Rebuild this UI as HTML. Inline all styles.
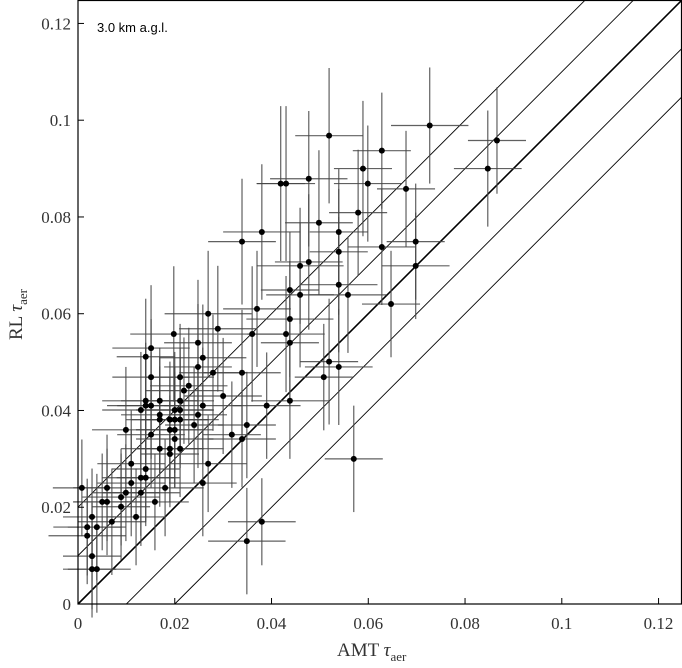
<!DOCTYPE html>
<html><head><meta charset="utf-8"><style>
body{margin:0;background:#fff;}
svg{display:block;}
</style></head><body>
<svg id="chart" width="682" height="668" xmlns="http://www.w3.org/2000/svg">
<g id="lines"></g>
<g id="errs"></g>
<g id="pts"></g>
<rect x="78" y="0.5" width="603.5" height="603.5" fill="none" stroke="#000" stroke-width="1.2"/>
<g id="axes" font-family="Liberation Serif, serif" font-size="17" fill="#333"></g>
<text x="97" y="32" font-family="Liberation Sans, sans-serif" font-size="13" fill="#000">3.0 km a.g.l.</text>
<text x="337" y="656" font-family="Liberation Serif, serif" font-size="19" fill="#333">AMT <tspan font-style="italic">τ</tspan><tspan font-size="13" dy="5">aer</tspan></text>
<text transform="translate(22,340) rotate(-90)" font-family="Liberation Serif, serif" font-size="19" fill="#333">RL <tspan font-style="italic">τ</tspan><tspan font-size="13" dy="5">aer</tspan></text>
</svg>
<script>
const xVals=[0.0519,0.0727,0.0628,0.0866,0.0589,0.0847,0.0419,0.0430,0.0477,0.0599,0.0678,0.0579,0.0498,0.0380,0.0539,0.0339,0.0628,0.0698,0.0539,0.0459,0.0477,0.0698,0.0539,0.0438,0.0459,0.0558,0.0647,0.0269,0.0370,0.0289,0.0438,0.0360,0.0430,0.0438,0.0258,0.0279,0.0339,0.0519,0.0539,0.0508,0.0300,0.0258,0.0390,0.0438,0.0198,0.0248,0.0151,0.0140,0.0248,0.0151,0.0211,0.0229,0.0219,0.0140,0.0151,0.0140,0.0169,0.0211,0.0200,0.0211,0.0130,0.0248,0.0169,0.0169,0.0190,0.0200,0.0211,0.0190,0.0200,0.0099,0.0240,0.0151,0.0200,0.0318,0.0339,0.0349,0.0169,0.0190,0.0211,0.0190,0.0110,0.0269,0.0258,0.0140,0.0130,0.0140,0.0110,0.0180,0.0008,0.0060,0.0099,0.0130,0.0050,0.0060,0.0089,0.0089,0.0159,0.0070,0.0120,0.0029,0.0019,0.0039,0.0019,0.0029,0.0029,0.0039,0.0380,0.0349,0.0570];
const yVals=[0.0968,0.0989,0.0937,0.0958,0.0900,0.0900,0.0869,0.0869,0.0879,0.0869,0.0858,0.0809,0.0788,0.0769,0.0769,0.0749,0.0738,0.0749,0.0728,0.0699,0.0707,0.0699,0.0660,0.0649,0.0639,0.0639,0.0620,0.0600,0.0610,0.0569,0.0589,0.0558,0.0558,0.0540,0.0509,0.0478,0.0478,0.0501,0.0490,0.0469,0.0430,0.0410,0.0410,0.0420,0.0558,0.0540,0.0529,0.0511,0.0490,0.0469,0.0469,0.0451,0.0441,0.0420,0.0410,0.0410,0.0420,0.0420,0.0401,0.0401,0.0401,0.0391,0.0391,0.0381,0.0381,0.0381,0.0381,0.0360,0.0360,0.0360,0.0370,0.0350,0.0341,0.0350,0.0341,0.0370,0.0321,0.0321,0.0321,0.0310,0.0290,0.0290,0.0250,0.0279,0.0261,0.0261,0.0250,0.0240,0.0240,0.0240,0.0230,0.0230,0.0211,0.0211,0.0221,0.0201,0.0211,0.0170,0.0180,0.0180,0.0159,0.0159,0.0141,0.0099,0.0072,0.0072,0.0170,0.0130,0.0300];
const xErr=[0.007,0.008,0.006,0.006,0.006,0.007,0.005,0.006,0.008,0.007,0.006,0.006,0.007,0.008,0.006,0.007,0.007,0.006,0.006,0.009,0.007,0.007,0.008,0.006,0.007,0.008,0.006,0.009,0.007,0.008,0.009,0.007,0.008,0.006,0.009,0.007,0.008,0.006,0.007,0.006,0.008,0.008,0.007,0.008,0.009,0.007,0.008,0.006,0.007,0.008,0.007,0.008,0.008,0.009,0.007,0.008,0.008,0.007,0.008,0.007,0.008,0.006,0.008,0.007,0.008,0.007,0.008,0.007,0.008,0.007,0.006,0.007,0.008,0.006,0.007,0.006,0.008,0.007,0.009,0.006,0.007,0.008,0.007,0.007,0.008,0.006,0.007,0.008,0.006,0.007,0.007,0.008,0.006,0.007,0.008,0.006,0.007,0.007,0.006,0.006,0.007,0.006,0.008,0.006,0.005,0.007,0.007,0.008,0.006];
const yErr=[0.014,0.012,0.012,0.011,0.014,0.012,0.016,0.016,0.014,0.012,0.012,0.013,0.015,0.014,0.013,0.013,0.012,0.012,0.013,0.012,0.014,0.011,0.014,0.012,0.015,0.012,0.011,0.013,0.012,0.013,0.012,0.014,0.012,0.013,0.011,0.012,0.013,0.013,0.012,0.011,0.012,0.012,0.011,0.012,0.014,0.013,0.013,0.012,0.013,0.012,0.011,0.012,0.011,0.012,0.011,0.012,0.011,0.011,0.012,0.011,0.012,0.011,0.012,0.011,0.012,0.011,0.010,0.011,0.012,0.013,0.012,0.011,0.010,0.011,0.010,0.011,0.012,0.011,0.010,0.011,0.011,0.010,0.011,0.011,0.012,0.010,0.011,0.010,0.010,0.011,0.010,0.011,0.010,0.011,0.010,0.011,0.010,0.011,0.010,0.010,0.010,0.011,0.010,0.011,0.010,0.009,0.009,0.011,0.011];
const tickVals=[0,0.02,0.04,0.06,0.08,0.1,0.12];
const tickLabels=["0","0.02","0.04","0.06","0.08","0.1","0.12"];
const offsets=[-0.02,-0.01,0,0.01,0.02];
const NS="http://www.w3.org/2000/svg";
const X0=78,Y0=604,S=4838,MAX=0.1248;
const sx=v=>X0+v*S, sy=v=>Y0-v*S;
function mk(tag,attrs,parent){const e=document.createElementNS(NS,tag);for(const k in attrs)e.setAttribute(k,attrs[k]);parent.appendChild(e);return e;}
const L=document.getElementById('lines');
offsets.forEach(o=>{
 let xa=Math.max(0,-o), xb=Math.min(MAX,MAX-o);
 const l=mk('line',{x1:sx(xa),y1:sy(xa+o),x2:sx(xb),y2:sy(xb+o),stroke:'#000','stroke-width':o===0?1.6:0.9},L);
 
 
});
const E=document.getElementById('errs'),P=document.getElementById('pts');
xVals.forEach((x,i)=>{
 const y=yVals[i];
 const h=mk('line',{x1:sx(x-xErr[i]),y1:sy(y),x2:sx(x+xErr[i]),y2:sy(y),stroke:'#444','stroke-width':1.2,'stroke-opacity':0.85},E);
 
 
 const v=mk('line',{x1:sx(x),y1:sy(y-yErr[i]),x2:sx(x),y2:sy(y+yErr[i]),stroke:'#444','stroke-width':1.2,'stroke-opacity':0.85},E);
 
 
 const c=mk('circle',{cx:sx(x),cy:sy(y),r:3,fill:'#000'},P);
 
 
});
const A=document.getElementById('axes');
tickVals.forEach((t,i)=>{
 const a=mk('line',{x1:sx(t),y1:Y0,x2:sx(t),y2:Y0-6,stroke:'#000','stroke-width':1},A);
 
 
 const b=mk('line',{x1:X0,y1:sy(t),x2:X0+6,y2:sy(t),stroke:'#000','stroke-width':1},A);
 
 
 const tx=mk('text',{x:sx(t),y:629,'text-anchor':'middle'},A);
 tx.textContent=tickLabels[i];
 
 
 const ty=mk('text',{x:71,y:sy(t)+6,'text-anchor':'end'},A);
 ty.textContent=tickLabels[i];
 
 
});
</script>
</body></html>
